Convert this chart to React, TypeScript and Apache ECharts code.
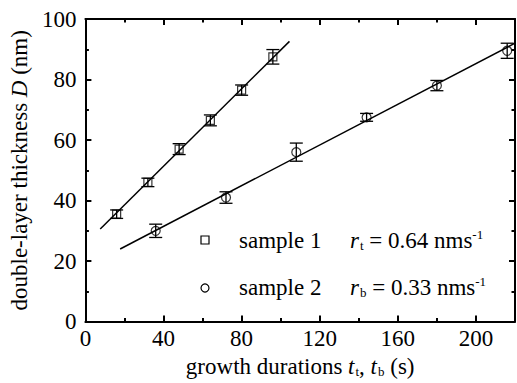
import React, { useEffect, useRef } from "react";
import * as echarts from "echarts";

const sample1X = [16, 32, 48, 64, 80, 96];
const sample1Y = [35.5, 46, 57, 66.5, 76.5, 87.5];
const sample1Err = [1.4, 1.4, 1.8, 1.8, 1.7, 2.4];
const sample2X = [36, 72, 108, 144, 180, 216];
const sample2Y = [30, 41, 56, 67.5, 78, 89.5];
const sample2Err = [2.2, 1.9, 3, 1.3, 1.7, 2.5];
const fit1 = [[7.6, 30.6], [104.5, 92.6]];
const fit2 = [[17.8, 24], [220, 92]];
const legendNames = ["sample 1", "sample 2"];
const legendRates = ["{i|r}{sub|t} = 0.64 nms{sup|-1}", "{i|r}{sub|b} = 0.33 nms{sup|-1}"];

const FONT = "Liberation Serif";
const FS = 23;

function errData(xs: number[], ys: number[], es: number[]) {
  return xs.map((x, i) => [x, ys[i] - es[i], ys[i] + es[i]]);
}

function errRender(params: any, api: any) {
  const x = api.value(0);
  const lo = api.value(1);
  const hi = api.value(2);
  const a = api.coord([x, hi]);
  const b = api.coord([x, lo]);
  const w = 6.5;
  const st = { stroke: "#000", lineWidth: 1.3 };
  return {
    type: "group",
    children: [
      { type: "line", shape: { x1: a[0], y1: a[1], x2: b[0], y2: b[1] }, style: st },
      { type: "line", shape: { x1: a[0] - w, y1: a[1], x2: a[0] + w, y2: a[1] }, style: st },
      { type: "line", shape: { x1: b[0] - w, y1: b[1], x2: b[0] + w, y2: b[1] }, style: st },
    ],
  };
}

function rich(fs: number) {
  return {
    i: { fontStyle: "italic", fontSize: fs, fontFamily: FONT, color: "#000" },
    sub: { fontSize: 13, fontFamily: FONT, color: "#000", verticalAlign: "bottom", padding: [11, 0, 0, 1] },
    sup: { fontSize: 13, fontFamily: FONT, color: "#000", verticalAlign: "top", padding: [0, 0, 11, 0] },
  };
}

export default function App() {
  const ref = useRef<HTMLDivElement>(null);
  useEffect(() => {
    const chart = echarts.init(ref.current!, null, { renderer: "svg" });
    const axisCommon = {
      axisLine: { show: true, onZero: false, lineStyle: { color: "#000", width: 2 } },
      axisTick: { show: true, inside: true, length: 6, lineStyle: { color: "#000", width: 2 } },
      minorTick: { show: true, splitNumber: 2, length: 3.5, lineStyle: { color: "#000", width: 2 } },
      splitLine: { show: false },
    };
    const labelStyle = { color: "#000", fontSize: FS, fontFamily: FONT };
    const nameStyle = { color: "#000", fontSize: FS, fontFamily: FONT, rich: rich(FS) };
    chart.setOption({
      animation: false,
      backgroundColor: "#fff",
      textStyle: { fontFamily: FONT },
      grid: { left: 84, right: 2, top: 19, bottom: 61, containLabel: false },
      xAxis: [
        {
          type: "value",
          min: 0,
          max: 220,
          interval: 40,
          ...axisCommon,
          axisLabel: { ...labelStyle, margin: 5, showMaxLabel: false },
          name: "growth durations {i|t}{sub|t}, {i|t}{sub|b} (s)",
          nameLocation: "middle",
          nameGap: 30,
          nameTextStyle: nameStyle,
        },
        {
          type: "value",
          position: "top",
          min: 0,
          max: 220,
          interval: 40,
          ...axisCommon,
          axisLabel: { show: false },
        },
      ],
      yAxis: [
        {
          type: "value",
          min: 0,
          max: 100,
          interval: 20,
          ...axisCommon,
          axisLabel: { ...labelStyle, margin: 9 },
          name: "double-layer thickness {i|D} (nm)",
          nameLocation: "middle",
          nameGap: 52,
          nameTextStyle: nameStyle,
        },
        {
          type: "value",
          position: "right",
          min: 0,
          max: 100,
          interval: 20,
          ...axisCommon,
          axisLabel: { show: false },
        },
      ],
      series: [
        { type: "line", data: fit1, symbol: "none", lineStyle: { color: "#000", width: 1.5 }, z: 1 },
        { type: "line", data: fit2, symbol: "none", lineStyle: { color: "#000", width: 1.5 }, z: 1 },
        { type: "custom", renderItem: errRender, data: errData(sample1X, sample1Y, sample1Err), clip: false, z: 2 },
        { type: "custom", renderItem: errRender, data: errData(sample2X, sample2Y, sample2Err), clip: false, z: 2 },
        {
          type: "scatter",
          name: legendNames[0],
          data: sample1X.map((x, i) => [x, sample1Y[i]]),
          symbol: "rect",
          symbolSize: 8,
          itemStyle: { color: "transparent", borderColor: "#000", borderWidth: 1.2 },
          z: 3,
        },
        {
          type: "scatter",
          name: legendNames[1],
          data: sample2X.map((x, i) => [x, sample2Y[i]]),
          symbol: "circle",
          symbolSize: 9,
          itemStyle: { color: "transparent", borderColor: "#000", borderWidth: 1.2 },
          z: 3,
        },
      ],
      graphic: [
        {
          type: "rect",
          shape: { x: 201, y: 236, width: 8, height: 8 },
          style: { fill: "none", stroke: "#000", lineWidth: 1.2 },
        },
        {
          type: "circle",
          shape: { cx: 205, cy: 288, r: 4 },
          style: { fill: "none", stroke: "#000", lineWidth: 1.2 },
        },
        {
          type: "text",
          x: 239,
          y: 240,
          style: { text: legendNames[0], fontSize: FS, fontFamily: FONT, fill: "#000", verticalAlign: "middle" },
        },
        {
          type: "text",
          x: 239,
          y: 287,
          style: { text: legendNames[1], fontSize: FS, fontFamily: FONT, fill: "#000", verticalAlign: "middle" },
        },
        {
          type: "text",
          x: 350,
          y: 240,
          style: {
            text: legendRates[0],
            fontSize: FS,
            fontFamily: FONT,
            fill: "#000",
            verticalAlign: "middle",
            rich: rich(FS),
          },
        },
        {
          type: "text",
          x: 350,
          y: 287,
          style: {
            text: legendRates[1],
            fontSize: FS,
            fontFamily: FONT,
            fill: "#000",
            verticalAlign: "middle",
            rich: rich(FS),
          },
        },
      ],
    });
    return () => chart.dispose();
  }, []);
  return (
    <div
      ref={ref}
      style={{ position: "fixed", left: 0, top: 0, width: 517, height: 383 }}
    />
  );
}
